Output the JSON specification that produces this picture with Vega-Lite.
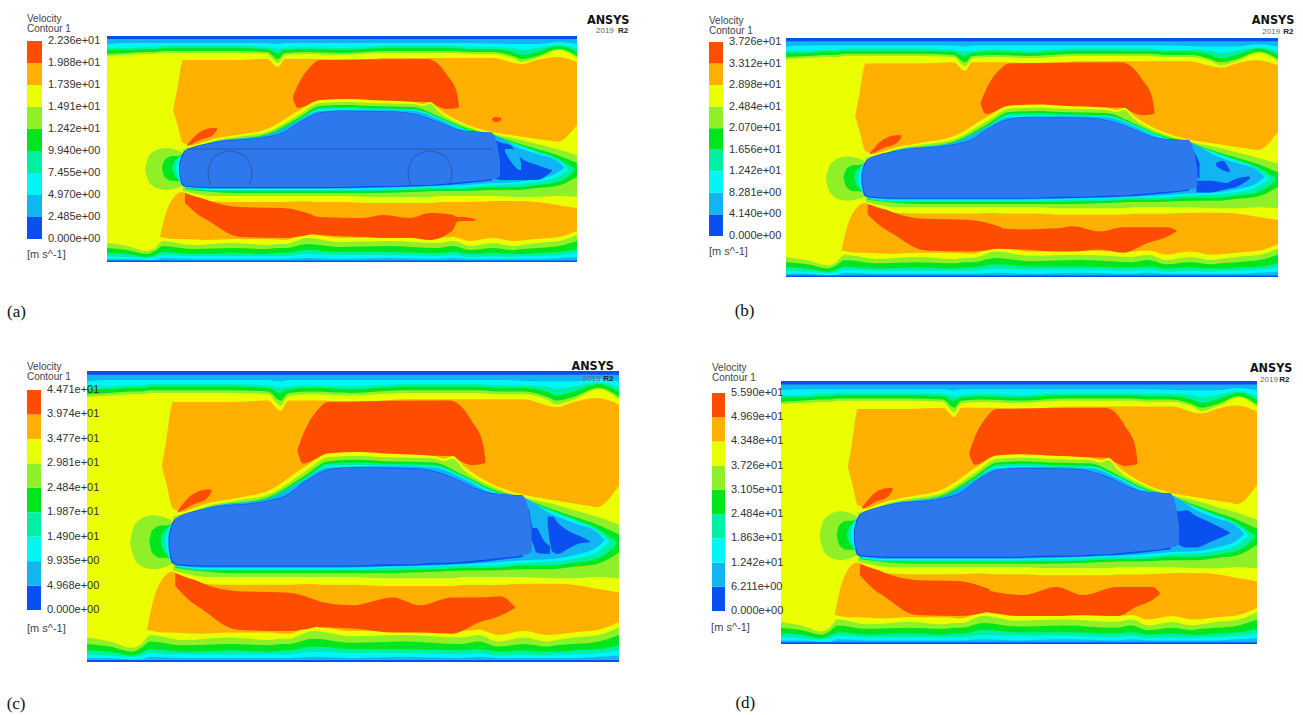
{"$schema":"https://vega.github.io/schema/vega-lite/v6.json","padding":0,"spacing":0,"background":"white","config":{"view":{"stroke":null},"concat":{"spacing":0},"area":{"interpolate":"monotone"}},"resolve":{"scale":{"color":"independent"}},
"datasets":{
"walls":[
{"shape":"w0","level":0.5,"x":0,"y":0,"y2":226},{"shape":"w0","level":0.5,"x":470,"y":0,"y2":226},
{"shape":"w1","level":1.5,"x":0,"y":3,"y2":224.5},{"shape":"w1","level":1.5,"x":470,"y":3,"y2":224.5},
{"shape":"w2","level":2.5,"x":0,"y":8,"y2":223},{"shape":"w2","level":2.5,"x":20,"y":7,"y2":223},{"shape":"w2","level":2.5,"x":40,"y":7,"y2":224},{"shape":"w2","level":2.5,"x":48,"y":7,"y2":224},{"shape":"w2","level":2.5,"x":56,"y":7,"y2":222},{"shape":"w2","level":2.5,"x":85,"y":7,"y2":223},{"shape":"w2","level":2.5,"x":126,"y":7,"y2":223},{"shape":"w2","level":2.5,"x":160,"y":7,"y2":223},{"shape":"w2","level":2.5,"x":171,"y":8,"y2":223},{"shape":"w2","level":2.5,"x":178,"y":7,"y2":223},{"shape":"w2","level":2.5,"x":200,"y":7,"y2":222},{"shape":"w2","level":2.5,"x":233,"y":7,"y2":223},{"shape":"w2","level":2.5,"x":280,"y":7,"y2":222},{"shape":"w2","level":2.5,"x":330,"y":7,"y2":223},{"shape":"w2","level":2.5,"x":346,"y":7,"y2":222},{"shape":"w2","level":2.5,"x":363,"y":7,"y2":223},{"shape":"w2","level":2.5,"x":406,"y":8,"y2":223},{"shape":"w2","level":2.5,"x":415,"y":8,"y2":223},{"shape":"w2","level":2.5,"x":430,"y":8,"y2":223},{"shape":"w2","level":2.5,"x":452,"y":6,"y2":222},{"shape":"w2","level":2.5,"x":470,"y":8,"y2":221},
{"shape":"w3","level":3.5,"x":0,"y":12,"y2":220},{"shape":"w3","level":3.5,"x":20,"y":12,"y2":221},{"shape":"w3","level":3.5,"x":40,"y":11,"y2":222},{"shape":"w3","level":3.5,"x":48,"y":11,"y2":221},{"shape":"w3","level":3.5,"x":56,"y":10,"y2":219},{"shape":"w3","level":3.5,"x":85,"y":10,"y2":220},{"shape":"w3","level":3.5,"x":126,"y":10,"y2":220},{"shape":"w3","level":3.5,"x":160,"y":11,"y2":220},{"shape":"w3","level":3.5,"x":171,"y":13,"y2":220},{"shape":"w3","level":3.5,"x":178,"y":12,"y2":220},{"shape":"w3","level":3.5,"x":200,"y":11,"y2":218},{"shape":"w3","level":3.5,"x":233,"y":12,"y2":219},{"shape":"w3","level":3.5,"x":280,"y":10,"y2":219},{"shape":"w3","level":3.5,"x":330,"y":10,"y2":220},{"shape":"w3","level":3.5,"x":346,"y":10,"y2":219},{"shape":"w3","level":3.5,"x":363,"y":11,"y2":221},{"shape":"w3","level":3.5,"x":386,"y":11,"y2":220},{"shape":"w3","level":3.5,"x":406,"y":12,"y2":221},{"shape":"w3","level":3.5,"x":415,"y":14,"y2":220},{"shape":"w3","level":3.5,"x":430,"y":12,"y2":220},{"shape":"w3","level":3.5,"x":452,"y":9,"y2":219},{"shape":"w3","level":3.5,"x":470,"y":13,"y2":217},
{"shape":"w4","level":4.5,"x":0,"y":14,"y2":217},{"shape":"w4","level":4.5,"x":20,"y":14,"y2":218},{"shape":"w4","level":4.5,"x":40,"y":13,"y2":221},{"shape":"w4","level":4.5,"x":48,"y":13,"y2":219},{"shape":"w4","level":4.5,"x":56,"y":12,"y2":216},{"shape":"w4","level":4.5,"x":85,"y":12,"y2":218},{"shape":"w4","level":4.5,"x":126,"y":12,"y2":217},{"shape":"w4","level":4.5,"x":160,"y":13,"y2":218},{"shape":"w4","level":4.5,"x":171,"y":17,"y2":217},{"shape":"w4","level":4.5,"x":178,"y":14,"y2":217},{"shape":"w4","level":4.5,"x":200,"y":13,"y2":214},{"shape":"w4","level":4.5,"x":233,"y":14,"y2":216},{"shape":"w4","level":4.5,"x":280,"y":12,"y2":216},{"shape":"w4","level":4.5,"x":330,"y":12,"y2":217},{"shape":"w4","level":4.5,"x":346,"y":12,"y2":216},{"shape":"w4","level":4.5,"x":363,"y":13,"y2":218},{"shape":"w4","level":4.5,"x":386,"y":13,"y2":217},{"shape":"w4","level":4.5,"x":406,"y":16,"y2":218},{"shape":"w4","level":4.5,"x":415,"y":19,"y2":218},{"shape":"w4","level":4.5,"x":430,"y":16,"y2":217},{"shape":"w4","level":4.5,"x":452,"y":10,"y2":216},{"shape":"w4","level":4.5,"x":470,"y":16,"y2":213},
{"shape":"w5","level":5.5,"x":0,"y":18,"y2":212},{"shape":"w5","level":5.5,"x":20,"y":17,"y2":214},{"shape":"w5","level":5.5,"x":40,"y":16,"y2":218},{"shape":"w5","level":5.5,"x":48,"y":16,"y2":215},{"shape":"w5","level":5.5,"x":56,"y":15,"y2":210},{"shape":"w5","level":5.5,"x":85,"y":15,"y2":213},{"shape":"w5","level":5.5,"x":126,"y":15,"y2":212},{"shape":"w5","level":5.5,"x":160,"y":16,"y2":213},{"shape":"w5","level":5.5,"x":171,"y":23,"y2":212},{"shape":"w5","level":5.5,"x":178,"y":17,"y2":212},{"shape":"w5","level":5.5,"x":200,"y":16,"y2":208},{"shape":"w5","level":5.5,"x":233,"y":17,"y2":211},{"shape":"w5","level":5.5,"x":280,"y":15,"y2":210},{"shape":"w5","level":5.5,"x":330,"y":15,"y2":212},{"shape":"w5","level":5.5,"x":346,"y":15,"y2":210},{"shape":"w5","level":5.5,"x":363,"y":16,"y2":214},{"shape":"w5","level":5.5,"x":386,"y":16,"y2":212},{"shape":"w5","level":5.5,"x":406,"y":20,"y2":214},{"shape":"w5","level":5.5,"x":415,"y":23,"y2":213},{"shape":"w5","level":5.5,"x":430,"y":20,"y2":212},{"shape":"w5","level":5.5,"x":452,"y":13,"y2":210},{"shape":"w5","level":5.5,"x":470,"y":20,"y2":205},
{"shape":"w6","level":6.5,"x":0,"y":20,"y2":207},{"shape":"w6","level":6.5,"x":20,"y":19,"y2":210},{"shape":"w6","level":6.5,"x":40,"y":18,"y2":215},{"shape":"w6","level":6.5,"x":48,"y":18,"y2":212},{"shape":"w6","level":6.5,"x":56,"y":17,"y2":205},{"shape":"w6","level":6.5,"x":85,"y":17,"y2":209},{"shape":"w6","level":6.5,"x":126,"y":17,"y2":207},{"shape":"w6","level":6.5,"x":160,"y":18,"y2":209},{"shape":"w6","level":6.5,"x":171,"y":27,"y2":208},{"shape":"w6","level":6.5,"x":178,"y":19,"y2":208},{"shape":"w6","level":6.5,"x":200,"y":18,"y2":202},{"shape":"w6","level":6.5,"x":233,"y":19,"y2":206},{"shape":"w6","level":6.5,"x":280,"y":17,"y2":205},{"shape":"w6","level":6.5,"x":330,"y":17,"y2":207},{"shape":"w6","level":6.5,"x":346,"y":17,"y2":205},{"shape":"w6","level":6.5,"x":363,"y":18,"y2":210},{"shape":"w6","level":6.5,"x":386,"y":18,"y2":207},{"shape":"w6","level":6.5,"x":406,"y":22,"y2":210},{"shape":"w6","level":6.5,"x":415,"y":26,"y2":209},{"shape":"w6","level":6.5,"x":430,"y":22,"y2":207},{"shape":"w6","level":6.5,"x":452,"y":14,"y2":205},{"shape":"w6","level":6.5,"x":470,"y":22,"y2":199},
{"shape":"oT","level":7.5,"x":66,"y":74,"y2":74},{"shape":"oT","level":7.5,"x":70,"y":54,"y2":87},{"shape":"oT","level":7.5,"x":76,"y":24,"y2":107},{"shape":"oT","level":7.5,"x":100,"y":24,"y2":112},{"shape":"oT","level":7.5,"x":126,"y":24,"y2":106},{"shape":"oT","level":7.5,"x":160,"y":23,"y2":100},{"shape":"oT","level":7.5,"x":171,"y":31,"y2":97},{"shape":"oT","level":7.5,"x":178,"y":23,"y2":96},{"shape":"oT","level":7.5,"x":190,"y":23,"y2":88},{"shape":"oT","level":7.5,"x":210,"y":23,"y2":74},{"shape":"oT","level":7.5,"x":233,"y":24,"y2":72},{"shape":"oT","level":7.5,"x":263,"y":23,"y2":75},{"shape":"oT","level":7.5,"x":280,"y":22,"y2":76},{"shape":"oT","level":7.5,"x":330,"y":22,"y2":84},{"shape":"oT","level":7.5,"x":360,"y":22,"y2":90},{"shape":"oT","level":7.5,"x":385,"y":22,"y2":98},{"shape":"oT","level":7.5,"x":415,"y":28,"y2":101},{"shape":"oT","level":7.5,"x":430,"y":24,"y2":104},{"shape":"oT","level":7.5,"x":450,"y":21,"y2":106},{"shape":"oT","level":7.5,"x":470,"y":26,"y2":89},
{"shape":"oB","level":7.5,"x":53,"y":201,"y2":201},{"shape":"oB","level":7.5,"x":58,"y":180,"y2":202},{"shape":"oB","level":7.5,"x":67,"y":161,"y2":203},{"shape":"oB","level":7.5,"x":75,"y":156,"y2":203},{"shape":"oB","level":7.5,"x":100,"y":165,"y2":204},{"shape":"oB","level":7.5,"x":126,"y":166,"y2":203},{"shape":"oB","level":7.5,"x":160,"y":166,"y2":203},{"shape":"oB","level":7.5,"x":178,"y":166,"y2":204},{"shape":"oB","level":7.5,"x":200,"y":165,"y2":198},{"shape":"oB","level":7.5,"x":233,"y":165,"y2":202},{"shape":"oB","level":7.5,"x":280,"y":166,"y2":201},{"shape":"oB","level":7.5,"x":330,"y":166,"y2":202},{"shape":"oB","level":7.5,"x":346,"y":166,"y2":201},{"shape":"oB","level":7.5,"x":363,"y":166,"y2":205},{"shape":"oB","level":7.5,"x":386,"y":165,"y2":202},{"shape":"oB","level":7.5,"x":406,"y":165,"y2":205},{"shape":"oB","level":7.5,"x":430,"y":165,"y2":203},{"shape":"oB","level":7.5,"x":452,"y":168,"y2":201},{"shape":"oB","level":7.5,"x":470,"y":172,"y2":195},
{"shape":"rT","level":8.5,"x":186,"y":61,"y2":63},{"shape":"rT","level":8.5,"x":191,"y":49,"y2":72},{"shape":"rT","level":8.5,"x":203,"y":31,"y2":68},{"shape":"rT","level":8.5,"x":213,"y":24,"y2":65},{"shape":"rT","level":8.5,"x":320,"y":23,"y2":66},{"shape":"rT","level":8.5,"x":330,"y":27,"y2":70},{"shape":"rT","level":8.5,"x":340,"y":39,"y2":73},{"shape":"rT","level":8.5,"x":350,"y":57,"y2":72},{"shape":"rT","level":8.5,"x":352,"y":70,"y2":71},
{"shape":"rN","level":8.5,"x":80,"y":109,"y2":110},{"shape":"rN","level":8.5,"x":85,"y":103,"y2":108},{"shape":"rN","level":8.5,"x":93,"y":96,"y2":104},{"shape":"rN","level":8.5,"x":106,"y":92,"y2":99},{"shape":"rN","level":8.5,"x":110,"y":92,"y2":94},
{"shape":"rB","level":8.5,"x":78,"y":157,"y2":167},{"shape":"rB","level":8.5,"x":93,"y":161,"y2":180},{"shape":"rB","level":8.5,"x":100,"y":164,"y2":184},{"shape":"rB","level":8.5,"x":133,"y":171,"y2":201},{"shape":"rB","level":8.5,"x":176,"y":172,"y2":202},{"shape":"rB","level":8.5,"x":206,"y":179,"y2":198}
],
"halo":[
{"shape":"h6","level":6.5,"x":76,"y":112,"y2":156},{"shape":"h6","level":6.5,"x":90,"y":108,"y2":161},{"shape":"h6","level":6.5,"x":106,"y":103,"y2":164},{"shape":"h6","level":6.5,"x":130,"y":99,"y2":165},{"shape":"h6","level":6.5,"x":160,"y":93,"y2":164},{"shape":"h6","level":6.5,"x":193,"y":74,"y2":165},{"shape":"h6","level":6.5,"x":213,"y":64,"y2":166},{"shape":"h6","level":6.5,"x":240,"y":63,"y2":166},{"shape":"h6","level":6.5,"x":263,"y":64,"y2":167},{"shape":"h6","level":6.5,"x":306,"y":66,"y2":167},{"shape":"h6","level":6.5,"x":316,"y":68,"y2":167},{"shape":"h6","level":6.5,"x":323,"y":66,"y2":167},{"shape":"h6","level":6.5,"x":333,"y":74,"y2":166},{"shape":"h6","level":6.5,"x":356,"y":87,"y2":166},{"shape":"h6","level":6.5,"x":385,"y":96,"y2":165},{"shape":"h6","level":6.5,"x":410,"y":100,"y2":165},{"shape":"h6","level":6.5,"x":430,"y":103,"y2":166},{"shape":"h6","level":6.5,"x":450,"y":106,"y2":169},{"shape":"h6","level":6.5,"x":470,"y":112,"y2":172},
{"shape":"h5","level":5.5,"x":76,"y":113,"y2":155},{"shape":"h5","level":5.5,"x":90,"y":110,"y2":158},{"shape":"h5","level":5.5,"x":106,"y":105,"y2":160},{"shape":"h5","level":5.5,"x":130,"y":101,"y2":160},{"shape":"h5","level":5.5,"x":160,"y":96,"y2":160},{"shape":"h5","level":5.5,"x":193,"y":78,"y2":160},{"shape":"h5","level":5.5,"x":213,"y":67,"y2":160},{"shape":"h5","level":5.5,"x":240,"y":66,"y2":160},{"shape":"h5","level":5.5,"x":263,"y":67,"y2":161},{"shape":"h5","level":5.5,"x":306,"y":68,"y2":161},{"shape":"h5","level":5.5,"x":316,"y":70,"y2":161},{"shape":"h5","level":5.5,"x":323,"y":68,"y2":161},{"shape":"h5","level":5.5,"x":333,"y":77,"y2":160},{"shape":"h5","level":5.5,"x":356,"y":89,"y2":160},{"shape":"h5","level":5.5,"x":385,"y":98,"y2":160},{"shape":"h5","level":5.5,"x":410,"y":103,"y2":161},{"shape":"h5","level":5.5,"x":430,"y":108,"y2":161},{"shape":"h5","level":5.5,"x":450,"y":113,"y2":160},{"shape":"h5","level":5.5,"x":470,"y":119,"y2":161},
{"shape":"h4","level":4.5,"x":78,"y":115,"y2":153},{"shape":"h4","level":4.5,"x":106,"y":106,"y2":156},{"shape":"h4","level":4.5,"x":130,"y":103,"y2":157},{"shape":"h4","level":4.5,"x":160,"y":98,"y2":157},{"shape":"h4","level":4.5,"x":193,"y":81,"y2":157},{"shape":"h4","level":4.5,"x":213,"y":70,"y2":157},{"shape":"h4","level":4.5,"x":240,"y":69,"y2":157},{"shape":"h4","level":4.5,"x":263,"y":70,"y2":157},{"shape":"h4","level":4.5,"x":306,"y":71,"y2":156},{"shape":"h4","level":4.5,"x":333,"y":81,"y2":155},{"shape":"h4","level":4.5,"x":356,"y":91,"y2":155},{"shape":"h4","level":4.5,"x":385,"y":99,"y2":154},{"shape":"h4","level":4.5,"x":410,"y":107,"y2":154},{"shape":"h4","level":4.5,"x":430,"y":113,"y2":152},{"shape":"h4","level":4.5,"x":450,"y":119,"y2":150},{"shape":"h4","level":4.5,"x":470,"y":127,"y2":141},
{"shape":"h3","level":3.5,"x":78,"y":116,"y2":152},{"shape":"h3","level":3.5,"x":106,"y":107,"y2":155},{"shape":"h3","level":3.5,"x":130,"y":104,"y2":155},{"shape":"h3","level":3.5,"x":160,"y":99,"y2":155},{"shape":"h3","level":3.5,"x":193,"y":83,"y2":155},{"shape":"h3","level":3.5,"x":213,"y":72,"y2":155},{"shape":"h3","level":3.5,"x":240,"y":71,"y2":155},{"shape":"h3","level":3.5,"x":263,"y":72,"y2":155},{"shape":"h3","level":3.5,"x":306,"y":73,"y2":154},{"shape":"h3","level":3.5,"x":333,"y":82,"y2":153},{"shape":"h3","level":3.5,"x":356,"y":92,"y2":153},{"shape":"h3","level":3.5,"x":385,"y":100,"y2":151},{"shape":"h3","level":3.5,"x":410,"y":108,"y2":151},{"shape":"h3","level":3.5,"x":430,"y":115,"y2":149},{"shape":"h3","level":3.5,"x":450,"y":122,"y2":146},{"shape":"h3","level":3.5,"x":465,"y":131,"y2":137},{"shape":"h3","level":3.5,"x":468,"y":133,"y2":134},
{"shape":"h2","level":2.5,"x":78,"y":116,"y2":151},{"shape":"h2","level":2.5,"x":106,"y":108,"y2":154},{"shape":"h2","level":2.5,"x":130,"y":105,"y2":154},{"shape":"h2","level":2.5,"x":160,"y":100,"y2":154},{"shape":"h2","level":2.5,"x":193,"y":84,"y2":154},{"shape":"h2","level":2.5,"x":213,"y":74,"y2":154},{"shape":"h2","level":2.5,"x":240,"y":73,"y2":154},{"shape":"h2","level":2.5,"x":263,"y":74,"y2":153},{"shape":"h2","level":2.5,"x":306,"y":74,"y2":152},{"shape":"h2","level":2.5,"x":333,"y":83,"y2":151},{"shape":"h2","level":2.5,"x":356,"y":93,"y2":151},{"shape":"h2","level":2.5,"x":385,"y":100,"y2":149},{"shape":"h2","level":2.5,"x":410,"y":109,"y2":148},{"shape":"h2","level":2.5,"x":430,"y":116,"y2":146},{"shape":"h2","level":2.5,"x":450,"y":124,"y2":141},{"shape":"h2","level":2.5,"x":461,"y":132,"y2":133},
{"shape":"h1","level":1.5,"x":80,"y":115,"y2":151},{"shape":"h1","level":1.5,"x":106,"y":106,"y2":153},{"shape":"h1","level":1.5,"x":160,"y":99,"y2":153},{"shape":"h1","level":1.5,"x":193,"y":84,"y2":153},{"shape":"h1","level":1.5,"x":213,"y":75,"y2":153},{"shape":"h1","level":1.5,"x":263,"y":74,"y2":152},{"shape":"h1","level":1.5,"x":306,"y":75,"y2":151},{"shape":"h1","level":1.5,"x":333,"y":84,"y2":150},{"shape":"h1","level":1.5,"x":356,"y":94,"y2":149},{"shape":"h1","level":1.5,"x":385,"y":98,"y2":147},{"shape":"h1","level":1.5,"x":410,"y":111,"y2":146},{"shape":"h1","level":1.5,"x":430,"y":118,"y2":143},{"shape":"h1","level":1.5,"x":450,"y":125,"y2":137},{"shape":"h1","level":1.5,"x":457,"y":131,"y2":132},
{"shape":"n5","level":5.5,"x":38,"y":133,"y2":133},{"shape":"n5","level":5.5,"x":41,"y":122,"y2":144},{"shape":"n5","level":5.5,"x":46,"y":116,"y2":150},{"shape":"n5","level":5.5,"x":52,"y":113,"y2":153},{"shape":"n5","level":5.5,"x":59,"y":112,"y2":154},{"shape":"n5","level":5.5,"x":66,"y":113,"y2":153},{"shape":"n5","level":5.5,"x":75,"y":116,"y2":150},
{"shape":"n4","level":4.5,"x":55,"y":132,"y2":132},{"shape":"n4","level":4.5,"x":57,"y":125,"y2":140},{"shape":"n4","level":4.5,"x":60,"y":122,"y2":143},{"shape":"n4","level":4.5,"x":65,"y":120,"y2":145},{"shape":"n4","level":4.5,"x":70,"y":120,"y2":145},{"shape":"n4","level":4.5,"x":76,"y":118,"y2":148},
{"shape":"n3","level":3.5,"x":65,"y":132,"y2":132},{"shape":"n3","level":3.5,"x":67,"y":126,"y2":138},{"shape":"n3","level":3.5,"x":70,"y":123,"y2":142},{"shape":"n3","level":3.5,"x":76,"y":118,"y2":148},
{"shape":"n2","level":2.5,"x":69,"y":132,"y2":132},{"shape":"n2","level":2.5,"x":71,"y":124,"y2":141},{"shape":"n2","level":2.5,"x":76,"y":118,"y2":150},
{"shape":"e","level":0.5,"x":72,"y":128,"y2":137},{"shape":"e","level":0.5,"x":75,"y":118.5,"y2":149},{"shape":"e","level":0.5,"x":80,"y":113.5,"y2":151},{"shape":"e","level":0.5,"x":106,"y":106.5,"y2":152},{"shape":"e","level":0.5,"x":160,"y":100.5,"y2":152},{"shape":"e","level":0.5,"x":176,"y":96.5,"y2":152},{"shape":"e","level":0.5,"x":193,"y":85.5,"y2":152},{"shape":"e","level":0.5,"x":200,"y":81.5,"y2":152},{"shape":"e","level":0.5,"x":213,"y":76.5,"y2":152},{"shape":"e","level":0.5,"x":235,"y":74.5,"y2":152},{"shape":"e","level":0.5,"x":263,"y":75,"y2":151.5},{"shape":"e","level":0.5,"x":290,"y":75.5,"y2":151},{"shape":"e","level":0.5,"x":306,"y":77.5,"y2":150.5},{"shape":"e","level":0.5,"x":320,"y":81.5,"y2":150},{"shape":"e","level":0.5,"x":333,"y":86.5,"y2":149.5},{"shape":"e","level":0.5,"x":345,"y":91.5,"y2":148.5},{"shape":"e","level":0.5,"x":356,"y":94.5,"y2":147.5},{"shape":"e","level":0.5,"x":385,"y":96.5,"y2":144.5}
],
"car":[
{"shape":"c","x":73,"y":128,"y2":137},{"shape":"c","x":76,"y":119,"y2":148},{"shape":"c","x":80,"y":114,"y2":150},{"shape":"c","x":106,"y":107,"y2":151},{"shape":"c","x":160,"y":101,"y2":151},{"shape":"c","x":176,"y":97,"y2":151},{"shape":"c","x":193,"y":86,"y2":151},{"shape":"c","x":200,"y":82,"y2":151},{"shape":"c","x":213,"y":77,"y2":151},{"shape":"c","x":235,"y":75,"y2":151},{"shape":"c","x":263,"y":75.5,"y2":150},{"shape":"c","x":290,"y":76,"y2":150},{"shape":"c","x":306,"y":78,"y2":149},{"shape":"c","x":320,"y":82,"y2":149},{"shape":"c","x":333,"y":87,"y2":148},{"shape":"c","x":345,"y":92,"y2":147},{"shape":"c","x":356,"y":95,"y2":146},{"shape":"c","x":385,"y":97,"y2":143},{"shape":"c","x":390,"y":108,"y2":142},{"shape":"c","x":393,"y":125,"y2":140}
],
"panelA":[
{"shape":"rb","level":8.5,"x":204,"y":179,"y2":198},{"shape":"rb","level":8.5,"x":213,"y":181,"y2":199},{"shape":"rb","level":8.5,"x":256,"y":182,"y2":201},{"shape":"rb","level":8.5,"x":276,"y":179,"y2":202},{"shape":"rb","level":8.5,"x":303,"y":182,"y2":202},{"shape":"rb","level":8.5,"x":323,"y":177,"y2":204},{"shape":"rb","level":8.5,"x":346,"y":179,"y2":194},{"shape":"rb","level":8.5,"x":350,"y":181,"y2":186},{"shape":"rb","level":8.5,"x":356,"y":181,"y2":185},{"shape":"rb","level":8.5,"x":368,"y":183,"y2":185},
{"shape":"dot","level":8.5,"x":385,"y":83,"y2":84},{"shape":"dot","level":8.5,"x":388,"y":81,"y2":86},{"shape":"dot","level":8.5,"x":394,"y":82,"y2":85}],
"wakeA":[
{"shape":"b1","level":0.5,"x":386,"y":103,"y2":142},{"shape":"b1","level":0.5,"x":395,"y":107,"y2":144},{"shape":"b1","level":0.5,"x":403,"y":109,"y2":144},{"shape":"b1","level":0.5,"x":413,"y":121,"y2":144},{"shape":"b1","level":0.5,"x":430,"y":129,"y2":144},{"shape":"b1","level":0.5,"x":445,"y":134,"y2":135},
{"shape":"b2","level":1.5,"x":398,"y":113,"y2":116},{"shape":"b2","level":1.5,"x":405,"y":113,"y2":127},{"shape":"b2","level":1.5,"x":413,"y":122,"y2":134},{"shape":"b2","level":1.5,"x":414,"y":128,"y2":134}],
"panelB":[
{"shape":"rb","level":8.5,"x":195,"y":179,"y2":199},{"shape":"rb","level":8.5,"x":226,"y":181,"y2":200},{"shape":"rb","level":8.5,"x":259,"y":180,"y2":202},{"shape":"rb","level":8.5,"x":274,"y":178,"y2":202},{"shape":"rb","level":8.5,"x":300,"y":183,"y2":200},{"shape":"rb","level":8.5,"x":322,"y":179,"y2":203},{"shape":"rb","level":8.5,"x":345,"y":179,"y2":194},{"shape":"rb","level":8.5,"x":364,"y":179,"y2":188},{"shape":"rb","level":8.5,"x":373,"y":182,"y2":183}],
"wakeB":[
{"shape":"b1","level":0.5,"x":386,"y":105,"y2":125},{"shape":"b1","level":0.5,"x":390,"y":108,"y2":130},{"shape":"b1","level":0.5,"x":395,"y":118,"y2":133},
{"shape":"b2","level":0.5,"x":411,"y":118,"y2":121},{"shape":"b2","level":0.5,"x":417,"y":116,"y2":125},{"shape":"b2","level":0.5,"x":424,"y":125,"y2":127},
{"shape":"b3","level":0.5,"x":392,"y":135,"y2":146},{"shape":"b3","level":0.5,"x":405,"y":135,"y2":146},{"shape":"b3","level":0.5,"x":420,"y":137,"y2":143},{"shape":"b3","level":0.5,"x":430,"y":133,"y2":141},{"shape":"b3","level":0.5,"x":443,"y":131,"y2":133}],
"panelC":[
{"shape":"rb","level":8.5,"x":204,"y":179,"y2":199},{"shape":"rb","level":8.5,"x":235,"y":182,"y2":200},{"shape":"rb","level":8.5,"x":270,"y":176,"y2":203},{"shape":"rb","level":8.5,"x":294,"y":182,"y2":203},{"shape":"rb","level":8.5,"x":323,"y":176,"y2":204},{"shape":"rb","level":8.5,"x":347,"y":176,"y2":195},{"shape":"rb","level":8.5,"x":365,"y":175,"y2":190},{"shape":"rb","level":8.5,"x":378,"y":183,"y2":184}],
"wakeC":[
{"shape":"b1","level":0.5,"x":386,"y":104,"y2":124},{"shape":"b1","level":0.5,"x":390,"y":107,"y2":128},{"shape":"b1","level":0.5,"x":394,"y":122,"y2":134},{"shape":"b1","level":0.5,"x":397,"y":122,"y2":141},{"shape":"b1","level":0.5,"x":403,"y":131,"y2":142},{"shape":"b1","level":0.5,"x":409,"y":136,"y2":142},
{"shape":"b2","level":0.5,"x":407,"y":113,"y2":120},{"shape":"b2","level":0.5,"x":411,"y":113,"y2":140},{"shape":"b2","level":0.5,"x":416,"y":118,"y2":142},{"shape":"b2","level":0.5,"x":425,"y":124,"y2":138},{"shape":"b2","level":0.5,"x":435,"y":128,"y2":134},{"shape":"b2","level":0.5,"x":444,"y":132,"y2":133}],
"panelD":[
{"shape":"rb","level":8.5,"x":204,"y":180,"y2":199},{"shape":"rb","level":8.5,"x":239,"y":184,"y2":202},{"shape":"rb","level":8.5,"x":272,"y":177,"y2":202},{"shape":"rb","level":8.5,"x":298,"y":184,"y2":201},{"shape":"rb","level":8.5,"x":332,"y":177,"y2":202},{"shape":"rb","level":8.5,"x":351,"y":177,"y2":194},{"shape":"rb","level":8.5,"x":367,"y":177,"y2":188},{"shape":"rb","level":8.5,"x":374,"y":182,"y2":183}],
"wakeD":[
{"shape":"b1","level":0.5,"x":387,"y":108,"y2":125},{"shape":"b1","level":0.5,"x":392,"y":112,"y2":140},{"shape":"b1","level":0.5,"x":400,"y":111,"y2":143},{"shape":"b1","level":0.5,"x":410,"y":116,"y2":143},{"shape":"b1","level":0.5,"x":425,"y":122,"y2":138},{"shape":"b1","level":0.5,"x":443,"y":130,"y2":131}],
"outline":[
{"part":"roofline","seq":1,"x":80,"y":113},{"part":"roofline","seq":2,"x":386,"y":113},
{"part":"w1","seq":1,"x":104,"y":149},{"part":"w1","seq":2,"x":101,"y":137},{"part":"w1","seq":3,"x":105,"y":124},{"part":"w1","seq":4,"x":112,"y":118},{"part":"w1","seq":5,"x":123,"y":115},{"part":"w1","seq":6,"x":134,"y":118},{"part":"w1","seq":7,"x":141,"y":124},{"part":"w1","seq":8,"x":145,"y":137},{"part":"w1","seq":9,"x":142,"y":149},
{"part":"w2","seq":1,"x":304,"y":149},{"part":"w2","seq":2,"x":301,"y":137},{"part":"w2","seq":3,"x":305,"y":124},{"part":"w2","seq":4,"x":312,"y":118},{"part":"w2","seq":5,"x":323,"y":115},{"part":"w2","seq":6,"x":334,"y":118},{"part":"w2","seq":7,"x":341,"y":124},{"part":"w2","seq":8,"x":345,"y":137},{"part":"w2","seq":9,"x":342,"y":149}],
"labels":[
{"panel":"a","kind":"note","text":"[m s^-1]","x":-80,"y":219},{"panel":"a","kind":"brand","text":"ANSYS","x":480,"y":-16},{"panel":"a","kind":"rel","text":"2019","x":489,"y":-5},{"panel":"a","kind":"relb","text":"R2","x":511,"y":-5},{"panel":"a","kind":"cap","text":"(a)","x":-100,"y":276},
{"panel":"b","kind":"note","text":"[m s^-1]","x":-73.5,"y":202},{"panel":"b","kind":"brand","text":"ANSYS","x":445,"y":-17},{"panel":"b","kind":"rel","text":"2019","x":455,"y":-6},{"panel":"b","kind":"relb","text":"R2","x":475,"y":-6},{"panel":"b","kind":"cap","text":"(b)","x":-49,"y":258},
{"panel":"c","kind":"note","text":"[m s^-1]","x":-53,"y":200},{"panel":"c","kind":"brand","text":"ANSYS","x":428,"y":-4},{"panel":"c","kind":"rel","text":"2019","x":438,"y":6},{"panel":"c","kind":"relb","text":"R2","x":456,"y":6},{"panel":"c","kind":"cap","text":"(c)","x":-71,"y":259},
{"panel":"d","kind":"note","text":"[m s^-1]","x":-69,"y":212},{"panel":"d","kind":"brand","text":"ANSYS","x":463,"y":-11},{"panel":"d","kind":"rel","text":"2019","x":473,"y":-1},{"panel":"d","kind":"relb","text":"R2","x":492,"y":-1},{"panel":"d","kind":"cap","text":"(d)","x":-45,"y":277}]
},
"vconcat":[
{"spacing":0,"resolve":{"scale":{"color":"independent"}},"hconcat":[
{"width":651,"height":357,"encoding":{"x":{"field":"x","type":"quantitative","axis":null,"scale":{"domain":[0,470],"range":[107,577]}},"y":{"field":"y","type":"quantitative","axis":null,"scale":{"domain":[0,226],"range":[36,262]}}},
"layer":[
{"encoding":{"y2":{"field":"y2"},"detail":{"field":"shape"},"color":{"field":"level","type":"quantitative","scale":{"type":"threshold","domain":[-1,0,1,2,3,4,5,6,7,8,9],"range":["#01010100","#ffffff00","#0a50f0","#12b4f2","#00f5f5","#00efa5","#00e61e","#8ff02a","#eaff00","#ffb000","#ff4d00","#00000000"]},"legend":{"type":"gradient","orient":"none","legendX":27,"legendY":14,"title":["Velocity","Contour 1"],"titleFont":"Liberation Sans","titleFontSize":10,"titleFontWeight":"normal","titleColor":"#444","titleLineHeight":10,"titlePadding":-15,"gradientLength":264,"gradientThickness":15,"gradientStrokeWidth":0,"labelFont":"Liberation Sans","labelFontSize":11,"labelColor":"#333","labelOffset":6,"labelOverlap":false,"values":[-1,0,1,2,3,4,5,6,7,8,9],"labelExpr":"datum.value<0?'':['0.000e+00','2.485e+00','4.970e+00','7.455e+00','9.940e+00','1.242e+01','1.491e+01','1.739e+01','1.988e+01','2.236e+01'][datum.value]"}}},
"layer":[{"data":{"name":"walls"},"mark":{"type":"area","orient":"vertical"}},{"data":{"name":"panelA"},"mark":{"type":"area","orient":"vertical"}},{"data":{"name":"halo"},"mark":{"type":"area","orient":"vertical"}},{"data":{"name":"wakeA"},"mark":{"type":"area","orient":"vertical"}}]},
{"data":{"name":"car"},"mark":{"type":"area","orient":"vertical","color":"#2e78ee"},"encoding":{"y2":{"field":"y2"},"detail":{"field":"shape"}}},
{"data":{"name":"outline"},"mark":{"type":"line","color":"#28508f","strokeWidth":0.8,"interpolate":"cardinal"},"encoding":{"detail":{"field":"part"},"order":{"field":"seq"}}},
{"data":{"name":"labels"},"transform":[{"filter":"datum.panel=='a'&&datum.kind=='note'"}],"mark":{"type":"text","align":"left","font":"Liberation Sans","fontSize":11,"fill":"#444"},"encoding":{"text":{"field":"text"}}},
{"data":{"name":"labels"},"transform":[{"filter":"datum.panel=='a'&&datum.kind=='brand'"}],"mark":{"type":"text","align":"left","font":"DejaVu Sans Condensed, Open Sans, sans-serif","fontWeight":"bold","fontSize":12.5,"fill":"#111"},"encoding":{"text":{"field":"text"}}},
{"data":{"name":"labels"},"transform":[{"filter":"datum.panel=='a'&&datum.kind=='rel'"}],"mark":{"type":"text","align":"left","font":"Liberation Sans","fontSize":8,"fill":"#666"},"encoding":{"text":{"field":"text"}}},
{"data":{"name":"labels"},"transform":[{"filter":"datum.panel=='a'&&datum.kind=='relb'"}],"mark":{"type":"text","align":"left","font":"Liberation Sans","fontWeight":"bold","fontSize":8,"fill":"#222"},"encoding":{"text":{"field":"text"}}},
{"data":{"name":"labels"},"transform":[{"filter":"datum.panel=='a'&&datum.kind=='cap'"}],"mark":{"type":"text","align":"left","font":"Liberation Serif","fontSize":17,"fill":"#111"},"encoding":{"text":{"field":"text"}}}
]},
{"width":652,"height":357,"encoding":{"x":{"field":"x","type":"quantitative","axis":null,"scale":{"domain":[0,470],"range":[135,627]}},"y":{"field":"y","type":"quantitative","axis":null,"scale":{"domain":[0,226],"range":[38,277]}}},
"layer":[
{"encoding":{"y2":{"field":"y2"},"detail":{"field":"shape"},"color":{"field":"level","type":"quantitative","scale":{"type":"threshold","domain":[-1,0,1,2,3,4,5,6,7,8,9],"range":["#01010100","#ffffff00","#0a50f0","#12b4f2","#00f5f5","#00efa5","#00e61e","#8ff02a","#eaff00","#ffb000","#ff4d00","#00000000"]},"legend":{"type":"gradient","orient":"none","legendX":58,"legendY":16,"title":["Velocity","Contour 1"],"titleFont":"Liberation Sans","titleFontSize":10,"titleFontWeight":"normal","titleColor":"#444","titleLineHeight":10,"titlePadding":-15.6,"gradientLength":258.7,"gradientThickness":14,"gradientStrokeWidth":0,"labelFont":"Liberation Sans","labelFontSize":11,"labelColor":"#333","labelOffset":6,"labelOverlap":false,"values":[-1,0,1,2,3,4,5,6,7,8,9],"labelExpr":"datum.value<0?'':['0.000e+00','4.140e+00','8.281e+00','1.242e+01','1.656e+01','2.070e+01','2.484e+01','2.898e+01','3.312e+01','3.726e+01'][datum.value]"}}},
"layer":[{"data":{"name":"walls"},"mark":{"type":"area","orient":"vertical"}},{"data":{"name":"panelB"},"mark":{"type":"area","orient":"vertical"}},{"data":{"name":"halo"},"mark":{"type":"area","orient":"vertical"}},{"data":{"name":"wakeB"},"mark":{"type":"area","orient":"vertical"}}]},
{"data":{"name":"car"},"mark":{"type":"area","orient":"vertical","color":"#2e78ee"},"encoding":{"y2":{"field":"y2"},"detail":{"field":"shape"}}},
{"data":{"name":"labels"},"transform":[{"filter":"datum.panel=='b'&&datum.kind=='note'"}],"mark":{"type":"text","align":"left","font":"Liberation Sans","fontSize":11,"fill":"#444"},"encoding":{"text":{"field":"text"}}},
{"data":{"name":"labels"},"transform":[{"filter":"datum.panel=='b'&&datum.kind=='brand'"}],"mark":{"type":"text","align":"left","font":"DejaVu Sans Condensed, Open Sans, sans-serif","fontWeight":"bold","fontSize":12.5,"fill":"#111"},"encoding":{"text":{"field":"text"}}},
{"data":{"name":"labels"},"transform":[{"filter":"datum.panel=='b'&&datum.kind=='rel'"}],"mark":{"type":"text","align":"left","font":"Liberation Sans","fontSize":8,"fill":"#666"},"encoding":{"text":{"field":"text"}}},
{"data":{"name":"labels"},"transform":[{"filter":"datum.panel=='b'&&datum.kind=='relb'"}],"mark":{"type":"text","align":"left","font":"Liberation Sans","fontWeight":"bold","fontSize":8,"fill":"#222"},"encoding":{"text":{"field":"text"}}},
{"data":{"name":"labels"},"transform":[{"filter":"datum.panel=='b'&&datum.kind=='cap'"}],"mark":{"type":"text","align":"left","font":"Liberation Serif","fontSize":17,"fill":"#111"},"encoding":{"text":{"field":"text"}}}
]}]},
{"spacing":0,"resolve":{"scale":{"color":"independent"}},"hconcat":[
{"width":651,"height":358,"encoding":{"x":{"field":"x","type":"quantitative","axis":null,"scale":{"domain":[0,470],"range":[87,619]}},"y":{"field":"y","type":"quantitative","axis":null,"scale":{"domain":[0,226],"range":[14,305]}}},
"layer":[
{"encoding":{"y2":{"field":"y2"},"detail":{"field":"shape"},"color":{"field":"level","type":"quantitative","scale":{"type":"threshold","domain":[-1,0,1,2,3,4,5,6,7,8,9],"range":["#01010100","#ffffff00","#0a50f0","#12b4f2","#00f5f5","#00efa5","#00e61e","#8ff02a","#eaff00","#ffb000","#ff4d00","#00000000"]},"legend":{"type":"gradient","orient":"none","legendX":27,"legendY":5,"title":["Velocity","Contour 1"],"titleFont":"Liberation Sans","titleFontSize":10,"titleFontWeight":"normal","titleColor":"#444","titleLineHeight":10,"titlePadding":-16.4,"gradientLength":293.3,"gradientThickness":14,"gradientStrokeWidth":0,"labelFont":"Liberation Sans","labelFontSize":11,"labelColor":"#333","labelOffset":6,"labelOverlap":false,"values":[-1,0,1,2,3,4,5,6,7,8,9],"labelExpr":"datum.value<0?'':['0.000e+00','4.968e+00','9.935e+00','1.490e+01','1.987e+01','2.484e+01','2.981e+01','3.477e+01','3.974e+01','4.471e+01'][datum.value]"}}},
"layer":[{"data":{"name":"walls"},"mark":{"type":"area","orient":"vertical"}},{"data":{"name":"panelC"},"mark":{"type":"area","orient":"vertical"}},{"data":{"name":"halo"},"mark":{"type":"area","orient":"vertical"}},{"data":{"name":"wakeC"},"mark":{"type":"area","orient":"vertical"}}]},
{"data":{"name":"car"},"mark":{"type":"area","orient":"vertical","color":"#2e78ee"},"encoding":{"y2":{"field":"y2"},"detail":{"field":"shape"}}},
{"data":{"name":"labels"},"transform":[{"filter":"datum.panel=='c'&&datum.kind=='note'"}],"mark":{"type":"text","align":"left","font":"Liberation Sans","fontSize":11,"fill":"#444"},"encoding":{"text":{"field":"text"}}},
{"data":{"name":"labels"},"transform":[{"filter":"datum.panel=='c'&&datum.kind=='brand'"}],"mark":{"type":"text","align":"left","font":"DejaVu Sans Condensed, Open Sans, sans-serif","fontWeight":"bold","fontSize":12.5,"fill":"#111"},"encoding":{"text":{"field":"text"}}},
{"data":{"name":"labels"},"transform":[{"filter":"datum.panel=='c'&&datum.kind=='rel'"}],"mark":{"type":"text","align":"left","font":"Liberation Sans","fontSize":8,"fill":"#666"},"encoding":{"text":{"field":"text"}}},
{"data":{"name":"labels"},"transform":[{"filter":"datum.panel=='c'&&datum.kind=='relb'"}],"mark":{"type":"text","align":"left","font":"Liberation Sans","fontWeight":"bold","fontSize":8,"fill":"#222"},"encoding":{"text":{"field":"text"}}},
{"data":{"name":"labels"},"transform":[{"filter":"datum.panel=='c'&&datum.kind=='cap'"}],"mark":{"type":"text","align":"left","font":"Liberation Serif","fontSize":17,"fill":"#111"},"encoding":{"text":{"field":"text"}}}
]},
{"width":652,"height":358,"encoding":{"x":{"field":"x","type":"quantitative","axis":null,"scale":{"domain":[0,470],"range":[130,606]}},"y":{"field":"y","type":"quantitative","axis":null,"scale":{"domain":[0,226],"range":[24,287]}}},
"layer":[
{"encoding":{"y2":{"field":"y2"},"detail":{"field":"shape"},"color":{"field":"level","type":"quantitative","scale":{"type":"threshold","domain":[-1,0,1,2,3,4,5,6,7,8,9],"range":["#01010100","#ffffff00","#0a50f0","#12b4f2","#00f5f5","#00efa5","#00e61e","#8ff02a","#eaff00","#ffb000","#ff4d00","#00000000"]},"legend":{"type":"gradient","orient":"none","legendX":61,"legendY":6,"title":["Velocity","Contour 1"],"titleFont":"Liberation Sans","titleFontSize":10,"titleFontWeight":"normal","titleColor":"#444","titleLineHeight":10,"titlePadding":-14.2,"gradientLength":290.7,"gradientThickness":13,"gradientStrokeWidth":0,"labelFont":"Liberation Sans","labelFontSize":11,"labelColor":"#333","labelOffset":6,"labelOverlap":false,"values":[-1,0,1,2,3,4,5,6,7,8,9],"labelExpr":"datum.value<0?'':['0.000e+00','6.211e+00','1.242e+01','1.863e+01','2.484e+01','3.105e+01','3.726e+01','4.348e+01','4.969e+01','5.590e+01'][datum.value]"}}},
"layer":[{"data":{"name":"walls"},"mark":{"type":"area","orient":"vertical"}},{"data":{"name":"panelD"},"mark":{"type":"area","orient":"vertical"}},{"data":{"name":"halo"},"mark":{"type":"area","orient":"vertical"}},{"data":{"name":"wakeD"},"mark":{"type":"area","orient":"vertical"}}]},
{"data":{"name":"car"},"mark":{"type":"area","orient":"vertical","color":"#2e78ee"},"encoding":{"y2":{"field":"y2"},"detail":{"field":"shape"}}},
{"data":{"name":"labels"},"transform":[{"filter":"datum.panel=='d'&&datum.kind=='note'"}],"mark":{"type":"text","align":"left","font":"Liberation Sans","fontSize":11,"fill":"#444"},"encoding":{"text":{"field":"text"}}},
{"data":{"name":"labels"},"transform":[{"filter":"datum.panel=='d'&&datum.kind=='brand'"}],"mark":{"type":"text","align":"left","font":"DejaVu Sans Condensed, Open Sans, sans-serif","fontWeight":"bold","fontSize":12.5,"fill":"#111"},"encoding":{"text":{"field":"text"}}},
{"data":{"name":"labels"},"transform":[{"filter":"datum.panel=='d'&&datum.kind=='rel'"}],"mark":{"type":"text","align":"left","font":"Liberation Sans","fontSize":8,"fill":"#666"},"encoding":{"text":{"field":"text"}}},
{"data":{"name":"labels"},"transform":[{"filter":"datum.panel=='d'&&datum.kind=='relb'"}],"mark":{"type":"text","align":"left","font":"Liberation Sans","fontWeight":"bold","fontSize":8,"fill":"#222"},"encoding":{"text":{"field":"text"}}},
{"data":{"name":"labels"},"transform":[{"filter":"datum.panel=='d'&&datum.kind=='cap'"}],"mark":{"type":"text","align":"left","font":"Liberation Serif","fontSize":17,"fill":"#111"},"encoding":{"text":{"field":"text"}}}
]}]}
]}
